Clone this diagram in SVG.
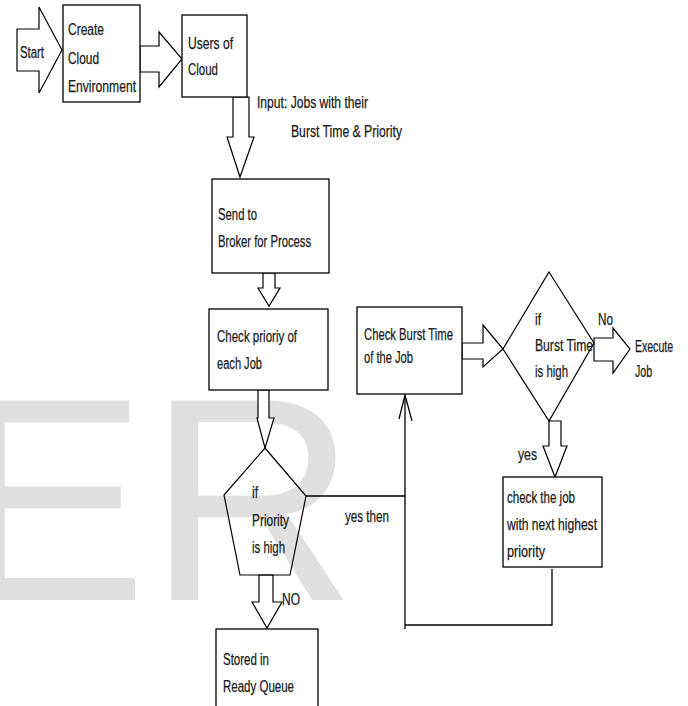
<svg xmlns="http://www.w3.org/2000/svg" width="688" height="706" viewBox="0 0 688 706">
<style>
.bg{fill:#ffffff}
.wm{font-family:"Liberation Sans",Arial,sans-serif;font-size:290px;fill:#e0e0e0}
.box{fill:#ffffff;stroke:#000;stroke-width:1.3}
.shape{fill:none;stroke:#000;stroke-width:1.2}
.arr{fill:#ffffff;stroke:#000;stroke-width:1.2;stroke-linejoin:miter}
.ln{fill:none;stroke:#000;stroke-width:1.3}
text.t{font-family:"Liberation Sans",Arial,sans-serif;font-size:16px;fill:#1a1a1a;stroke:#1a1a1a;stroke-width:0.25}
</style>
<rect class="bg" x="0" y="0" width="688" height="706"/>
<text class="wm" x="-46" y="600">ER</text>

<g id="connectors">
  <polygon id="arrow-start" class="arr" points="17,29 39,29 39,7 62,50 39,93 39,71 17,71"/>
  <polygon class="arr" points="140,46 159,46 159,32 182,59 159,87 159,72 140,72"/>
  <polygon class="arr" points="233,97 249,97 249,137 254,137 240,177 227,137 233,137"/>
  <polygon class="arr" points="263,273 275,273 275,288 280,288 269,306 258,288 263,288"/>
  <polygon class="arr" points="258,390 269,390 269,418 274,418 265,448 257,418 258,418"/>
  <polygon class="arr" points="259,575 273,575 273,602 282,602 267,628 252,602 259,602"/>
  <polygon class="arr" points="462,343 483,343 483,325 503,349 483,367 483,359 462,359"/>
  <polygon class="arr" points="594,338 613,338 613,328 630,349 613,373 613,361 594,361"/>
  <polygon class="arr" points="549,421 561,421 561,446 567,446 555,477 543,446 549,446"/>
  <polyline class="ln" points="306,496 405,496"/>
  <polyline class="ln" points="552,569 552,625 405,625"/>
  <polyline class="ln" points="405,629 405,395"/>
  <polyline class="ln" points="399,419 405,395 412,421"/>
  <text class="t" x="257" y="108" textLength="111" lengthAdjust="spacingAndGlyphs">Input: Jobs with their</text>
  <text class="t" x="291" y="137" textLength="111" lengthAdjust="spacingAndGlyphs">Burst Time &amp; Priority</text>
  <text class="t" x="345" y="522" textLength="44" lengthAdjust="spacingAndGlyphs">yes then</text>
  <text class="t" x="282" y="605" textLength="18" lengthAdjust="spacingAndGlyphs">NO</text>
  <text class="t" x="598" y="325" textLength="15" lengthAdjust="spacingAndGlyphs">No</text>
  <text class="t" x="518" y="460" textLength="19" lengthAdjust="spacingAndGlyphs">yes</text>
</g>

<g id="start">
  <text class="t" x="20" y="58" textLength="24" lengthAdjust="spacingAndGlyphs">Start</text>
</g>

<g id="create-cloud">
  <rect class="box" x="63" y="5" width="77" height="97"/>
  <text class="t" x="68" y="35" textLength="36" lengthAdjust="spacingAndGlyphs">Create</text>
  <text class="t" x="68" y="64" textLength="31" lengthAdjust="spacingAndGlyphs">Cloud</text>
  <text class="t" x="68" y="92" textLength="68" lengthAdjust="spacingAndGlyphs">Environment</text>
</g>

<g id="users">
  <rect class="box" x="182" y="15" width="65" height="82"/>
  <text class="t" x="188" y="49" textLength="45" lengthAdjust="spacingAndGlyphs">Users of</text>
  <text class="t" x="188" y="75" textLength="30" lengthAdjust="spacingAndGlyphs">Cloud</text>
</g>

<g id="broker">
  <rect class="box" x="212" y="179" width="117" height="94"/>
  <text class="t" x="218" y="220" textLength="39" lengthAdjust="spacingAndGlyphs">Send to</text>
  <text class="t" x="218" y="247" textLength="93" lengthAdjust="spacingAndGlyphs">Broker for Process</text>
</g>

<g id="check-priority">
  <rect class="box" x="209" y="309" width="119" height="81"/>
  <text class="t" x="217" y="342" textLength="80" lengthAdjust="spacingAndGlyphs">Check prioriy of</text>
  <text class="t" x="217" y="369" textLength="45" lengthAdjust="spacingAndGlyphs">each Job</text>
</g>

<g id="priority-decision">
  <polygon class="shape" points="265,448 306,496 290,575 240,575 224,495"/>
  <text class="t" x="252" y="498" textLength="6" lengthAdjust="spacingAndGlyphs">if</text>
  <text class="t" x="252" y="526" textLength="37" lengthAdjust="spacingAndGlyphs">Priority</text>
  <text class="t" x="252" y="553" textLength="33" lengthAdjust="spacingAndGlyphs">is high</text>
</g>

<g id="ready-queue">
  <rect class="box" x="216" y="629" width="102" height="90"/>
  <text class="t" x="223" y="665" textLength="46" lengthAdjust="spacingAndGlyphs">Stored in</text>
  <text class="t" x="223" y="692" textLength="71" lengthAdjust="spacingAndGlyphs">Ready Queue</text>
</g>

<g id="check-burst">
  <rect class="box" x="357" y="307" width="105" height="87"/>
  <text class="t" x="364" y="340" textLength="89" lengthAdjust="spacingAndGlyphs">Check Burst Time</text>
  <text class="t" x="364" y="363" textLength="49" lengthAdjust="spacingAndGlyphs">of the Job</text>
</g>

<g id="burst-decision">
  <polygon class="shape" points="549,272 594,343 549,421 503,349"/>
  <text class="t" x="535" y="325" textLength="6" lengthAdjust="spacingAndGlyphs">if</text>
  <text class="t" x="535" y="351" textLength="58" lengthAdjust="spacingAndGlyphs">Burst Time</text>
  <text class="t" x="535" y="377" textLength="33" lengthAdjust="spacingAndGlyphs">is high</text>
</g>

<g id="execute">
  <text class="t" x="635" y="352" textLength="38" lengthAdjust="spacingAndGlyphs">Execute</text>
  <text class="t" x="635" y="377" textLength="17" lengthAdjust="spacingAndGlyphs">Job</text>
</g>

<g id="next-job">
  <rect class="box" x="503" y="477" width="99" height="90"/>
  <text class="t" x="507" y="503" textLength="68" lengthAdjust="spacingAndGlyphs">check the job</text>
  <text class="t" x="507" y="530" textLength="90" lengthAdjust="spacingAndGlyphs">with next highest</text>
  <text class="t" x="507" y="557" textLength="38" lengthAdjust="spacingAndGlyphs">priority</text>
</g>
</svg>
